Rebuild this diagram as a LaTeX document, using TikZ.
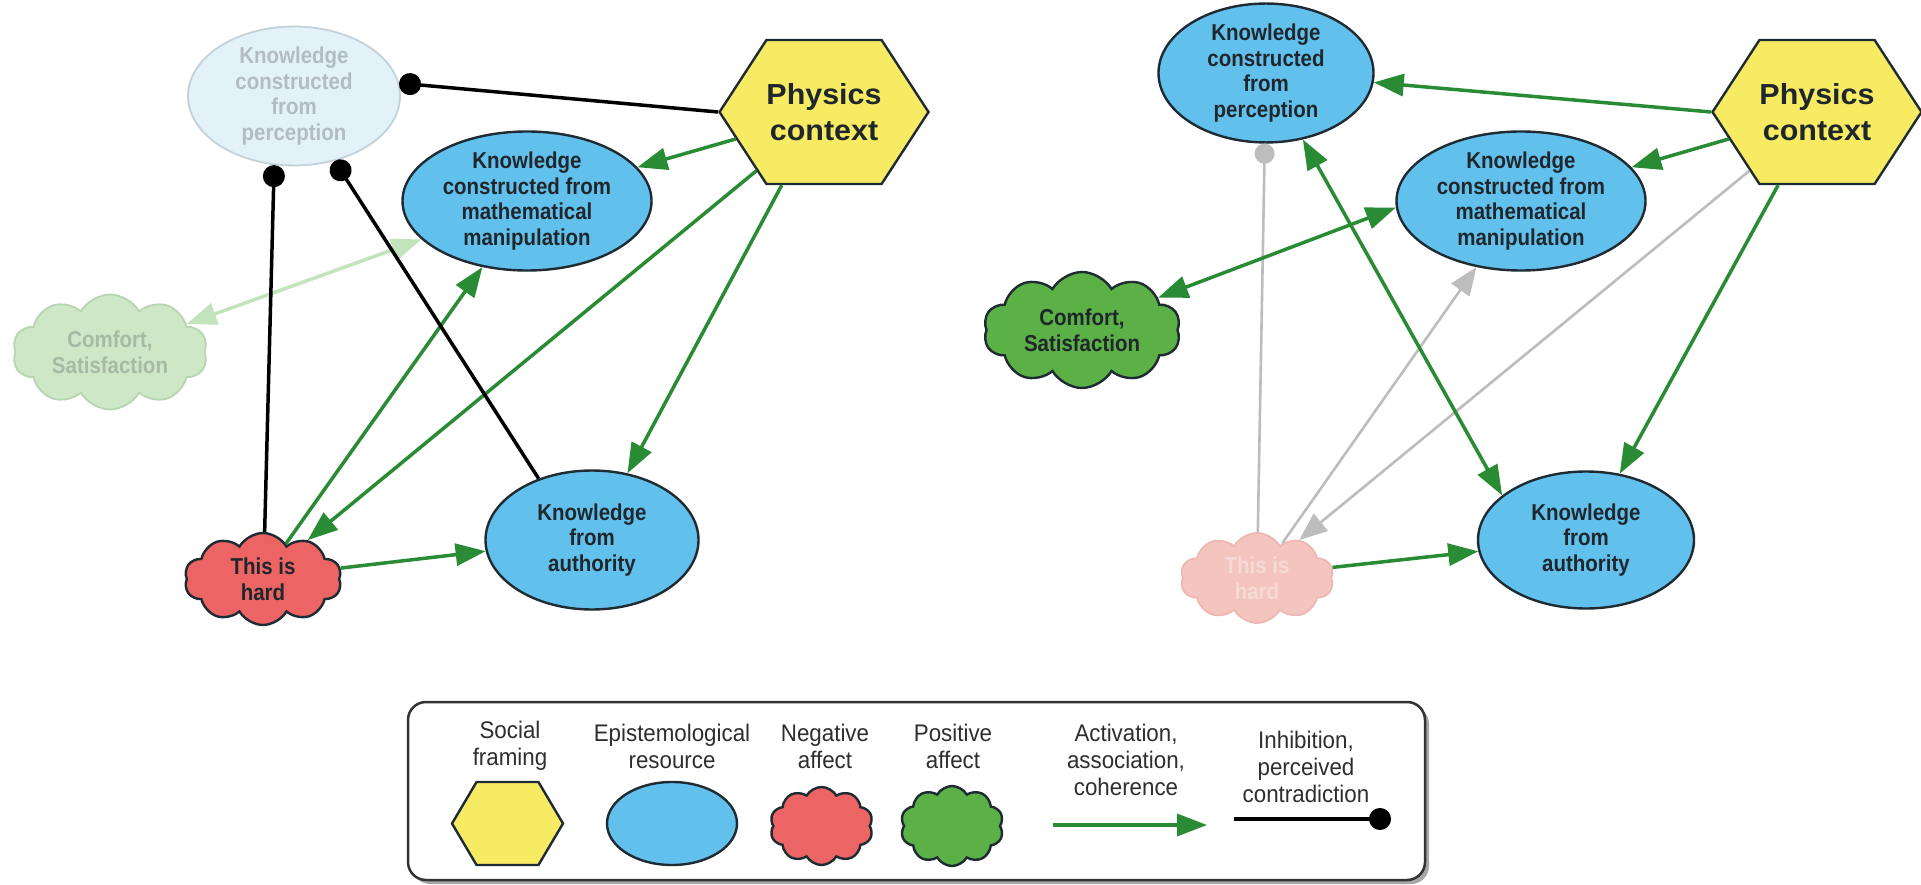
\documentclass[tikz,border=0pt]{standalone}
\usepackage{fontspec}
\setmainfont{Liberation Sans}
\newfontfamily\nodefnt{Liberation Sans}[FakeStretch=0.89]
\newfontfamily\legfnt{Liberation Sans}[FakeStretch=0.93]
\newfontfamily\physfnt{Liberation Sans}[FakeStretch=1.05]
\usetikzlibrary{shapes.geometric,shapes.symbols,arrows.meta}
\definecolor{resblue}{HTML}{62C0EC}
\definecolor{hexyel}{HTML}{F6EB62}
\definecolor{negred}{HTML}{EC6464}
\definecolor{posgreen}{HTML}{5BB046}
\definecolor{arrgreen}{HTML}{2A8B35}
\definecolor{outline}{HTML}{1E2B33}
\definecolor{txt}{HTML}{20272C}
\definecolor{fadeblue}{HTML}{E2F2F8}
\definecolor{fadeblueline}{HTML}{C3D2D8}
\definecolor{fadebluetxt}{HTML}{B3BDC1}
\definecolor{fadegreen}{HTML}{CDE7C7}
\definecolor{fadegreenline}{HTML}{B8D5B1}
\definecolor{fadegreentxt}{HTML}{A8BAA5}
\definecolor{fadered}{HTML}{F4C5BF}
\definecolor{faderedline}{HTML}{EDB8B1}
\definecolor{faderedtxt}{HTML}{F6DAD6}
\definecolor{fadearrow}{HTML}{C2E3BB}
\definecolor{grayline}{HTML}{BDBDBD}
\definecolor{legtxt}{HTML}{2E2E2E}
\tikzset{
  base/.style={draw=outline, line width=2.4pt, text=txt, align=center, inner sep=0pt,
    font=\nodefnt\bfseries\fontsize{23}{25.6}\selectfont},
  res/.style={base, ellipse, fill=resblue},
  cloudbase/.style={base, cloud, cloud puffs=10, cloud puff arc=120, cloud ignores aspect},
  negaff/.style={cloudbase, fill=negred},
  posaff/.style={cloudbase, fill=posgreen},
  frame/.style={base, signal, signal to=west and east, signal pointer angle=113.8, fill=hexyel,
    font=\physfnt\bfseries\fontsize{29}{36}\selectfont},
  fadedres/.style={res, fill=fadeblue, draw=fadeblueline, text=fadebluetxt, line width=1.8pt},
  fadedpos/.style={posaff, fill=fadegreen, draw=fadegreenline, text=fadegreentxt, line width=1.8pt},
  fadedneg/.style={negaff, fill=fadered, draw=faderedline, text=faderedtxt, line width=1.8pt},
  act/.style={draw=arrgreen, line width=3.5pt, -{Triangle[length=30pt,width=22pt,fill=arrgreen]}},
  bi/.style={draw=arrgreen, line width=3.5pt,
    {Triangle[length=30pt,width=22pt,fill=arrgreen]}-{Triangle[length=30pt,width=22pt,fill=arrgreen]}},
  fadebi/.style={draw=fadearrow, line width=3.5pt,
    {Triangle[length=30pt,width=22pt,fill=fadearrow]}-{Triangle[length=30pt,width=22pt,fill=fadearrow]}},
  grayact/.style={draw=grayline, line width=2.6pt, -{Triangle[length=28pt,width=22pt,fill=grayline]}},
  inh/.style={draw=black, line width=3.5pt, -{Circle[length=22pt,fill=black]}},
  grayinh/.style={draw=grayline, line width=2.6pt, -{Circle[length=20pt,fill=grayline]}},
  legtext/.style={align=center, inner sep=0pt, text=legtxt, font=\legfnt\fontsize{24}{27}\selectfont},
}
\begin{document}
\begin{tikzpicture}[x=1pt,y=-1pt]
\useasboundingbox (0,0) rectangle (1921,885);
\fill[white] (0,0) rectangle (1921,885);

% ---------------- left panel ----------------
\node[fadedres, minimum width=212pt, minimum height=132pt] (percL) at (294,96) {Knowledge\\constructed\\from\\perception};
\node[frame, minimum width=194pt, minimum height=144pt] (physL) at (824,112) {Physics\\context};
\node[res, minimum width=249pt, minimum height=139pt] (mathL) at (527,201) {Knowledge\\constructed from\\mathematical\\manipulation};
\node[fadedpos, minimum width=195pt, minimum height=115pt] (comfL) at (110,352) {Comfort,\\Satisfaction};
\node[negaff, minimum width=157pt, minimum height=92pt] (hardL) at (263,579) {This is\\hard};
\node[res, minimum width=213pt, minimum height=139pt] (authL) at (592,540) {Knowledge\\from\\authority};

\draw[fadebi] (comfL.20) -- (mathL.200);
\draw[inh] (physL.west) -- (percL.7);
\draw[act] (physL.197) -- (mathL.17);
\draw[act] (physL.221) -- (hardL.41);
\draw[act] (physL.240) -- (authL.62);
\draw[act] (hardL.57) -- (mathL.236);
\draw[act] (hardL.8) -- (authL.186);
\draw[inh] (hardL.88) -- (percL.254);
\draw[inh] (authL.131) -- (percL.302);

% ---------------- right panel ----------------
\node[res, minimum width=215pt, minimum height=133pt] (percR) at (1266,73) {Knowledge\\constructed\\from\\perception};
\node[frame, minimum width=194pt, minimum height=144pt] (physR) at (1817,112) {Physics\\context};
\node[res, minimum width=249pt, minimum height=139pt] (mathR) at (1521,201) {Knowledge\\constructed from\\mathematical\\manipulation};
\node[posaff, minimum width=197pt, minimum height=116pt] (comfR) at (1082,330) {Comfort,\\Satisfaction};
\node[fadedneg, minimum width=153pt, minimum height=90pt] (hardR) at (1257,578) {This is\\hard};
\node[res, minimum width=216pt, minimum height=137pt] (authR) at (1586,540) {Knowledge\\from\\authority};

\draw[grayinh] (hardR.89) -- (percR.269);
\draw[grayact] (hardR.54) -- (mathR.236);
\draw[grayact] (physR.221) -- (hardR.42);
\draw[act] (physR.west) -- (percR.355);
\draw[act] (physR.197) -- (mathR.17);
\draw[act] (physR.242) -- (authR.63);
\draw[bi] (percR.299) -- (authR.152);
\draw[bi] (comfR.23) -- (mathR.183);
\draw[act] (hardR.8) -- (authR.186);

% ---------------- legend ----------------
\fill[black!35, rounded corners=18pt] (412,706) rectangle (1429,884);
\draw[rounded corners=18pt, line width=2.5pt, draw=black!80, fill=white] (408,702) rectangle (1425,880);

\node[legtext] (tSoc) at (510,746) {Social\\framing};
\node[legtext] (tEpi) at (672,746) {Epistemological\\resource};
\node[legtext] (tNeg) at (825,746) {Negative\\affect};
\node[legtext] (tPos) at (953,746) {Positive\\affect};
\node[legtext] (tAct) at (1126,760) {Activation,\\association,\\coherence};
\node[legtext] (tInh) at (1306,767) {Inhibition,\\perceived\\contradiction};

\node[frame, minimum width=111pt, minimum height=83pt, signal pointer angle=118.8] (lgHex) at (507.5,823.5) {};
\node[res, minimum width=130pt, minimum height=83pt] (lgRes) at (672,823.5) {};
\node[negaff, minimum width=103pt, minimum height=78pt] (lgNeg) at (821.5,826) {};
\node[posaff, minimum width=103pt, minimum height=80pt] (lgPos) at (952,826) {};
\coordinate (lgA1) at (1053,825);
\coordinate (lgA2) at (1207,825);
\draw[act] (lgA1) -- (lgA2);
\coordinate (lgI1) at (1234,819);
\coordinate (lgI2) at (1391,819);
\draw[inh] (lgI1) -- (lgI2);
\end{tikzpicture}
\end{document}
